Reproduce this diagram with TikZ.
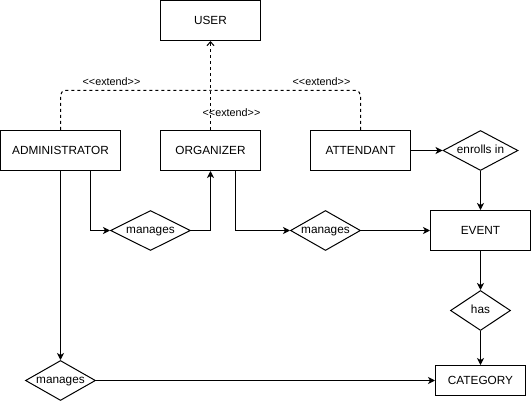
\documentclass[tikz,border=0pt]{standalone}
\usepackage{fontspec}
\setmainfont{Liberation Sans}[Ligatures=TeXOff]
\usetikzlibrary{shapes.geometric,positioning,arrows.meta}
\tikzstyle{rel} = [diamond,draw,aspect=2,inner sep=0pt,text height=6pt,text depth=0pt,minimum height=40pt,font=\fontsize{11.8pt}{14pt}\selectfont]

\begin{document}
\begin{tikzpicture}
		[
		x=1pt,y=1pt,
		node distance=80pt,
		line width=1pt,
		block/.style={
		draw,
		rectangle,
		minimum width=100pt,
		minimum height=40pt,
		font=\fontsize{11.8pt}{14pt}\selectfont},
		ext/.style={draw,dash pattern=on 3pt off 3pt,rounded corners=5pt},
		flow/.style={draw,-{Stealth[length=7pt,width=7pt,inset=2pt]}},
		lbl/.style={font=\fontsize{10.8pt}{12pt}\selectfont,inner sep=2pt}
		]
		\useasboundingbox (-0.5,0.5) rectangle (530.5,-400.5);
		\node[block](user) at (210,-20) {USER};
		\node[block,below of=user,yshift=-50pt](organizer) {ORGANIZER};
		\node[block,left of=organizer,xshift=-70pt,minimum width=120pt](admin) {ADMINISTRATOR};
		\node[block,right of=organizer,xshift=70pt](attendant) {ATTENDANT};
		\node[rel,right of=attendant,xshift=40pt,minimum width=75pt](enrolls) {enrolls in};
		\node[block,below of=enrolls](event) {EVENT};
		\node[rel,below of=event,minimum width=60pt](has) {has};
		\node[block,below of=has,yshift=10pt,minimum width=90pt,minimum height=30pt](category) {CATEGORY};
		\node[rel,below of=organizer,xshift=-60pt,minimum width=80pt](adm_manages) {manages};
		\node[rel,below of=organizer,xshift=115pt,minimum width=70pt](org_manages) {manages};
		\node[rel,below of=admin,yshift=-150pt,minimum width=70pt](cat_manages) {manages};
		\coordinate (join) at (210,-90);
		
		% generalisation
		\draw[ext] (admin.north) |- node[lbl,pos=0.67,above=2pt]{<<extend>>} (join);
		\draw[ext] (attendant.north) |- node[lbl,pos=0.63,above=2pt]{<<extend>>} (join);
		\draw[ext,-{Straight Barb[length=4pt,width=7pt]}] (organizer) -- node[lbl,pos=0.19,xshift=21pt]{<<extend>>} (user);
		
		\draw[flow] (admin) -- (cat_manages);
		\draw[flow] ([xshift=30pt]admin.south) |- (adm_manages);
		\draw[flow] (adm_manages) -| (organizer);
		\draw[flow] ([xshift=25pt]organizer.south) |- (org_manages);
		\draw[flow] (org_manages) -- (event);
		\draw[flow] (attendant) -- (enrolls);
		\draw[flow] (enrolls) -- (event);
		\draw[flow] (event) -- (has);
		\draw[flow] (has) -- (category);
		\draw[flow] (cat_manages) -- (category);
		\end{tikzpicture}
\end{document}
